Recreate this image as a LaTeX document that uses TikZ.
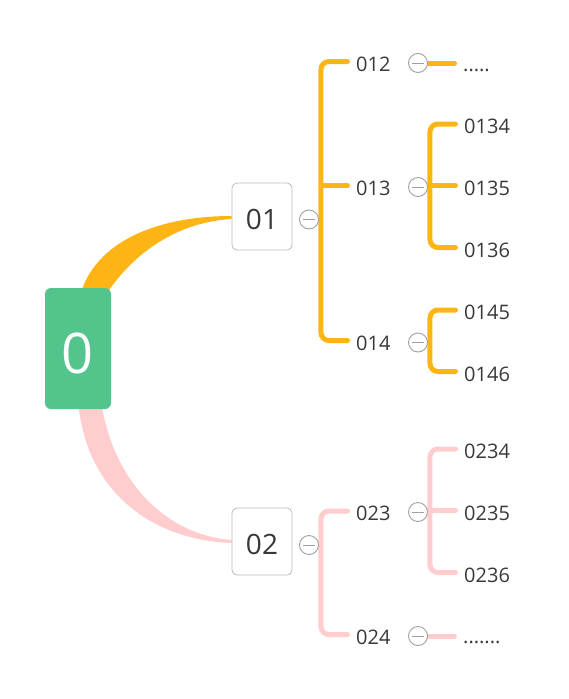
\documentclass[tikz,border=0pt]{standalone}
\usepackage{fontspec}
\setmainfont{Open Sans}
\usetikzlibrary{backgrounds}
\definecolor{orb}{HTML}{FDB515}
\definecolor{pkb}{HTML}{FFCDCD}
\definecolor{rootg}{HTML}{52C48C}
\definecolor{txt}{HTML}{383838}
\definecolor{colgray}{HTML}{A0A0A0}
\begin{document}
\begin{tikzpicture}[x=1pt,y=-1pt,
  lbl/.style={anchor=west,inner sep=0pt,font=\fontsize{20}{24}\selectfont,text=txt},
  dotlbl/.style={anchor=base west,inner sep=0pt,font=\fontsize{20}{24}\selectfont,text=txt},
  colbtn/.style={circle,draw=colgray,fill=white,line width=0.9pt,minimum size=19pt,inner sep=0pt,
    path picture={\draw[colgray,line width=0.9pt] ([xshift=-6pt]path picture bounding box.center) -- ([xshift=6pt]path picture bounding box.center);}},
  topic/.style={draw=black!27,fill=white,rounded corners=5pt,minimum width=60pt,minimum height=67pt,line width=0.8pt,
    font=\fontsize{28}{32}\selectfont,text=txt,text height=26pt,text depth=0pt,inner sep=0pt},
  rootbox/.style={fill=rootg,rounded corners=6pt,minimum width=66pt,minimum height=121pt,inner sep=0pt,
    font=\fontsize{56}{60}\selectfont,text=white,text height=49pt,text depth=0pt},
  obr/.style={draw=orb,line width=5pt,line cap=round,rounded corners=8pt},
  pbr/.style={draw=pkb,line width=5pt,line cap=round,rounded corners=8pt}
]
\useasboundingbox (0,0) rectangle (569,699);

% nodes
\node[rootbox] (root) at (78,348.5) {0};
\node[topic] (n01) at (262,216.5) {01};
\node[topic] (n02) at (262,541.5) {02};

\node[colbtn] (c01) at (309,219.5) {};
\node[colbtn] (c02) at (309,545) {};
\node[colbtn] (c012) at (418,63) {};
\node[colbtn] (c013) at (418,187) {};
\node[colbtn] (c014) at (418,342.5) {};
\node[colbtn] (c023) at (418,512) {};
\node[colbtn] (c024) at (418,636) {};

\node[lbl] (l012) at (356,64) {012};
\node[lbl] (l013) at (356,188) {013};
\node[lbl] (l014) at (356,343) {014};
\node[lbl] (l0134) at (464,126.5) {0134};
\node[lbl] (l0135) at (464,188) {0135};
\node[lbl] (l0136) at (464,250) {0136};
\node[lbl] (l0145) at (464,312.5) {0145};
\node[lbl] (l0146) at (464,374) {0146};
\node[lbl] (l023) at (356,513.5) {023};
\node[lbl] (l024) at (356,637) {024};
\node[lbl] (l0234) at (464,451.5) {0234};
\node[lbl] (l0235) at (464,513) {0235};
\node[lbl] (l0236) at (464,575) {0236};
\node[dotlbl] (d012) at (463,71) {.....};
\node[dotlbl] (d024) at (463,643) {.......};

% stub ends beside each label
\foreach \n in {012,013,014,0134,0135,0136,0145,0146,023,024,0234,0235,0236}
  \coordinate (t\n) at ([xshift=-8.5pt,yshift=2.5pt]l\n.west);
\coordinate (s01) at ([xshift=2pt]c01.east);
\coordinate (s02) at ([xshift=2pt]c02.east);
\coordinate (s013) at ([xshift=2pt]c013.east);
\coordinate (s014) at ([xshift=2pt]c014.east);
\coordinate (s023) at ([xshift=2pt]c023.east);
\coordinate (e012) at ([xshift=-8.5pt]d012.base west);
\coordinate (e024) at ([xshift=-8.5pt]d024.base west);

\begin{pgfonlayer}{background}
% tapered main branches
\fill[orb] (80,296) .. controls (95,240) and (160,216) .. (n01.west |- 0,216)
  -- (n01.west |- 0,219) .. controls (180,222) and (135,250) .. (105,296) -- cycle;
\fill[pkb] (78,400) .. controls (85,490) and (150,540) .. (n02.west |- 0,543)
  -- (n02.west |- 0,540) .. controls (165,535) and (112,480) .. (101,400) -- cycle;

% orange brackets
\draw[obr] (t012) -| (s01) |- (t014);
\draw[obr] (t013) -- (s01 |- t013);
\draw[obr] (t0134) -| (s013) |- (t0136);
\draw[obr] (t0135) -- (s013 |- t0135);
\draw[obr] (t0145) -| (s014) |- (t0146);
\draw[obr] (c012.east) -- (e012 |- c012.east);

% pink brackets
\draw[pbr] (t023) -| (s02) |- (t024);
\draw[pbr] (t0234) -| (s023) |- (t0236);
\draw[pbr] (t0235) -- (s023 |- t0235);
\draw[pbr] (c024.east) -- (e024 |- c024.east);
\end{pgfonlayer}
\end{tikzpicture}
\end{document}
